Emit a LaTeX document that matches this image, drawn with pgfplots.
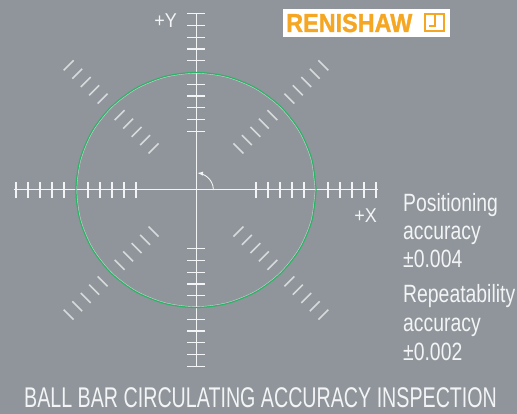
\documentclass[border=0pt]{standalone}
\usepackage{pgfplots}
\pgfplotsset{compat=1.18}
\usepackage{fontspec}
\setmainfont{Liberation Sans}
\newfontfamily\condA{Liberation Sans}[FakeStretch=0.775]
\newfontfamily\condT{Liberation Sans}[FakeStretch=0.69]
\newfontfamily\condX{Liberation Sans}[FakeStretch=0.9]
\newfontfamily\logofont{Liberation Sans Bold}[FakeStretch=0.9,FakeBold=1.2]
\definecolor{bgcol}{RGB}{143,149,154}
\definecolor{txtcol}{RGB}{242,244,245}
\definecolor{dashcol}{RGB}{215,218,220}
\definecolor{circgreen}{RGB}{40,180,100}
\definecolor{logoorange}{RGB}{245,166,35}
\begin{document}
\begin{tikzpicture}[x=1pt,y=1pt]
\fill[bgcol] (0,0) rectangle (517,414);
\begin{axis}[
  hide axis,
  x=12pt, y=11.75pt,
  xmin=-16, xmax=16, ymin=-16, ymax=16,
  anchor=center, at={(196pt,224pt)},
  clip=false,
]
% axis lines
\addplot[txtcol, line width=1pt] coordinates {(-15.2,0) (15.2,0)};
\addplot[txtcol, line width=1pt] coordinates {(0,-15.1) (0,15.1)};
% x ticks
\addplot[only marks, mark=|, mark size=8pt, txtcol, mark options={line width=1.2pt}] coordinates {
(-15,0) (-14,0) (-13,0) (-12,0) (-11,0) (-9,0) (-8,0) (-7,0) (-6,0) (-5,0)
(5,0) (6,0) (7,0) (8,0) (9,0) (11,0) (12,0) (13,0) (14,0) (15,0)};
% y ticks
\addplot[only marks, mark=-, mark size=9pt, txtcol, mark options={line width=1.2pt}] coordinates {
(0,-15) (0,-14) (0,-13) (0,-12) (0,-11) (0,-9) (0,-8) (0,-7) (0,-6) (0,-5)
(0,5) (0,6) (0,7) (0,8) (0,9) (0,11) (0,12) (0,13) (0,14) (0,15)};
% diagonal dashes, "/" diagonal
\addplot[only marks, mark=|, mark size=7pt, dashcol, mark options={line width=1.6pt, rotate=45}] coordinates {
(3.536,3.536) (4.243,4.243) (4.950,4.950) (5.657,5.657) (6.364,6.364)
(7.778,7.778) (8.485,8.485) (9.192,9.192) (9.899,9.899) (10.607,10.607)
(-3.536,-3.536) (-4.243,-4.243) (-4.950,-4.950) (-5.657,-5.657) (-6.364,-6.364)
(-7.778,-7.778) (-8.485,-8.485) (-9.192,-9.192) (-9.899,-9.899) (-10.607,-10.607)};
% diagonal dashes, "\" diagonal
\addplot[only marks, mark=|, mark size=7pt, dashcol, mark options={line width=1.6pt, rotate=-45}] coordinates {
(-3.536,3.536) (-4.243,4.243) (-4.950,4.950) (-5.657,5.657) (-6.364,6.364)
(-7.778,7.778) (-8.485,8.485) (-9.192,9.192) (-9.899,9.899) (-10.607,10.607)
(3.536,-3.536) (4.243,-4.243) (4.950,-4.950) (5.657,-5.657) (6.364,-6.364)
(7.778,-7.778) (8.485,-8.485) (9.192,-9.192) (9.899,-9.899) (10.607,-10.607)};
% circle
\addplot[circgreen, line width=1.3pt, smooth] coordinates {
(10,0) (9.659,2.588) (8.660,5.000) (7.071,7.071) (5.000,8.660) (2.588,9.659)
(0,10) (-2.588,9.659) (-5,8.660) (-7.071,7.071) (-8.660,5) (-9.659,2.588)
(-10,0) (-9.659,-2.588) (-8.660,-5) (-7.071,-7.071) (-5,-8.660) (-2.588,-9.659)
(0,-10) (2.588,-9.659) (5,-8.660) (7.071,-7.071) (8.660,-5) (9.659,-2.588) (10,0)};
\addplot[white, opacity=0.6, line width=0.4pt, smooth] coordinates {
(9.93,0) (9.592,2.570) (8.600,4.965) (7.022,7.022) (4.965,8.600) (2.570,9.592)
(0,9.93) (-2.570,9.592) (-4.965,8.600) (-7.022,7.022) (-8.600,4.965) (-9.592,2.570)
(-9.93,0) (-9.592,-2.570) (-8.600,-4.965) (-7.022,-7.022) (-4.965,-8.600) (-2.570,-9.592)
(0,-9.93) (2.570,-9.592) (4.965,-8.600) (7.022,-7.022) (8.600,-4.965) (9.592,-2.570) (9.93,0)};
% angle arc
\addplot[txtcol, line width=0.9pt, smooth, -latex] coordinates {
(1.45,0) (1.401,0.375) (1.256,0.725) (1.025,1.025) (0.725,1.256) (0.375,1.401) (0.126,1.444)};
\end{axis}
% axis labels
\node[anchor=base east, inner sep=0, text=txtcol, font=\condX\fontsize{20}{22}\selectfont] at (177,386) {+Y};
\node[anchor=base east, inner sep=0, text=txtcol, font=\condX\fontsize{20}{22}\selectfont] at (377,191) {+X};
% logo
\fill[white] (283,377) rectangle (450,405);
\node[anchor=base west, inner sep=0, text=logoorange, font=\logofont\fontsize{26}{28}\selectfont] at (286,382) {RENISHAW};
\draw[logoorange, line width=1.3pt] (425,383) rectangle (444,400);
\draw[logoorange, line width=1.3pt] (435,400) -- (435,388) -- (429,388);
% right text
\begin{scope}[every node/.style={anchor=base west, inner sep=0, text=txtcol, font=\condA\fontsize{25}{28}\selectfont}]
\node at (403,202) {Positioning};
\node at (403,174) {accuracy};
\node at (403,146) {\textpm0.004};
\node at (403,111) {Repeatability};
\node at (403,82) {accuracy};
\node at (403,53) {\textpm0.002};
\end{scope}
% title
\node[anchor=base west, inner sep=0, text=txtcol, font=\condT\fontsize{28.5}{31}\selectfont] at (24,6) {BALL BAR CIRCULATING ACCURACY INSPECTION};
\pgfresetboundingbox
\path[use as bounding box] (0,0) rectangle (517,414);
\end{tikzpicture}
\end{document}
